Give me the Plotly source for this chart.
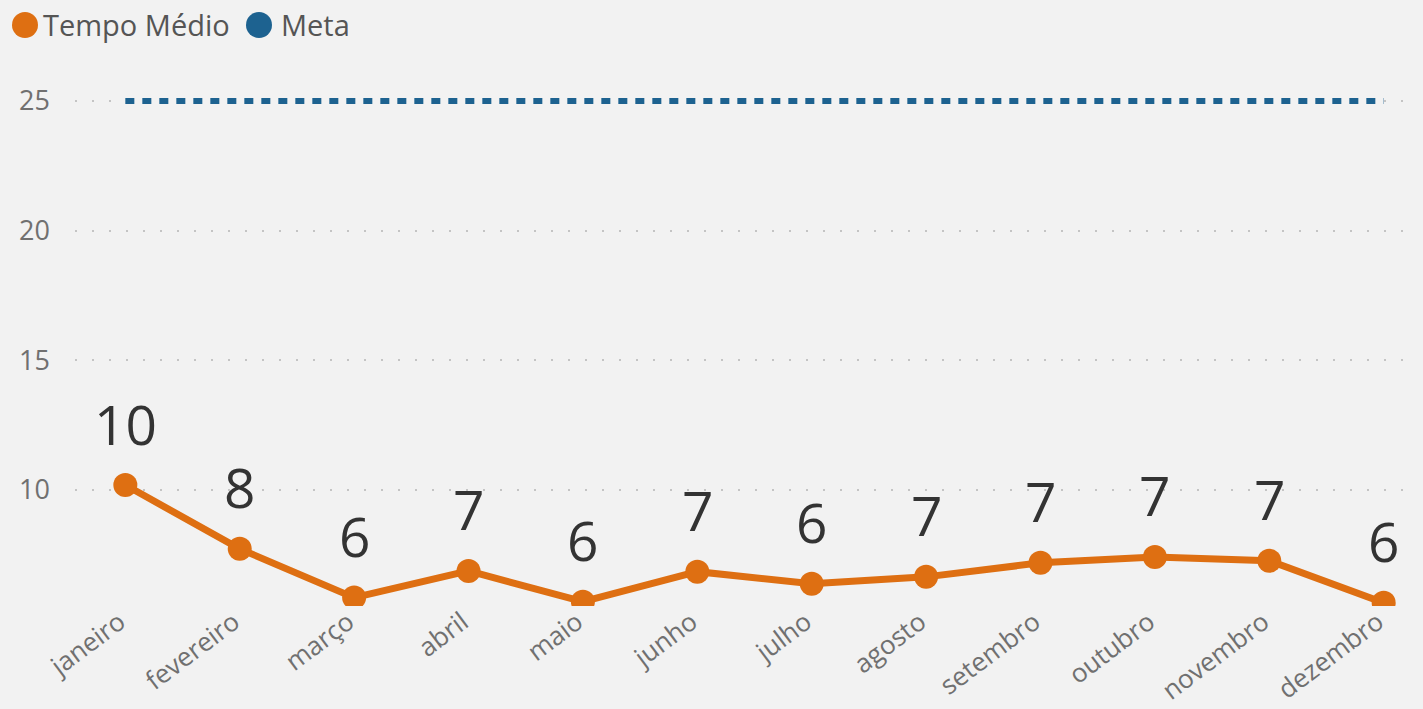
import plotly.graph_objects as go

meses = ["janeiro", "fevereiro", "março", "abril", "maio", "junho", "julho",
         "agosto", "setembro", "outubro", "novembro", "dezembro"]
tempo_medio = [10.19, 7.73, 5.85, 6.88, 5.69, 6.85, 6.38, 6.65, 7.19, 7.42, 7.27, 5.65]
rotulos = ["10", "8", "6", "7", "6", "7", "6", "7", "7", "7", "7", "6"]
meta = [25] * 12
y_ticks = [10, 15, 20, 25]
legenda = ["Tempo Médio", "Meta"]

ORANGE = "#DE6F12"
BLUE = "#1D6290"
FONT = "Segoe UI, Open Sans, sans-serif"

W, H = 1423, 709
ML, MR, MT, MB = 75, 5, 70, 103
PW, PH = W - ML - MR, H - MT - MB


def px_x(x):
    return (x - ML) / PW


def px_y(y):
    return 1 - (y - MT) / PH


fig = go.Figure()
fig.add_trace(go.Scatter(
    x=meses, y=meta, mode="lines", name="Meta",
    line=dict(color=BLUE, width=6, dash="9px,8px"), showlegend=False,
))
fig.add_trace(go.Scatter(
    x=meses, y=tempo_medio, mode="lines+markers", name="Tempo Médio",
    line=dict(color=ORANGE, width=7),
    marker=dict(color=ORANGE, size=24), showlegend=False,
))

for m, v, t in zip(meses, tempo_medio, rotulos):
    fig.add_annotation(x=m, y=v, text=t, showarrow=False, yanchor="middle",
                       yshift=62, font=dict(family=FONT, size=55, color="#333333"))

# manual legend
leg_items = [(legenda[0], ORANGE, 25, 16), (legenda[1], BLUE, 259, 20)]
for name, col, cx, gap in leg_items:
    fig.add_shape(type="circle", xref="paper", yref="paper",
                  xsizemode="pixel", ysizemode="pixel",
                  xanchor=px_x(cx), yanchor=px_y(25),
                  x0=-13, x1=13, y0=-13, y1=13,
                  fillcolor=col, line=dict(width=0))
    fig.add_annotation(xref="paper", yref="paper", x=px_x(cx + gap), y=px_y(24),
                       xanchor="left", yanchor="middle", text=name, showarrow=False,
                       font=dict(family=FONT, size=29, color="#555555"))

fig.update_layout(
    width=W, height=H,
    paper_bgcolor="#F2F2F2", plot_bgcolor="#F2F2F2",
    margin=dict(l=ML, r=MR, t=MT, b=MB),
    font=dict(family=FONT, color="#666666"),
    showlegend=False,
    xaxis=dict(range=[-0.44, 11.3], showgrid=False, showline=False, zeroline=False,
               tickangle=-37, tickfont=dict(size=26, color="#707070"),
               ticks="", ticklabelstandoff=-5, ticklabelshift=-6, automargin=False),
    yaxis=dict(range=[5.526, 26.196], tickvals=y_ticks, showline=False, zeroline=False,
               showgrid=True, gridcolor="#C4C4C4", gridwidth=2, griddash="2px,15px",
               tickfont=dict(size=27, color="#707070"), ticks="", ticklabelstandoff=24,
               automargin=False),
)

fig.write_html("out.html", config={"displayModeBar": False},
               post_script="document.body.style.margin='0';document.body.style.background='#F2F2F2';")
